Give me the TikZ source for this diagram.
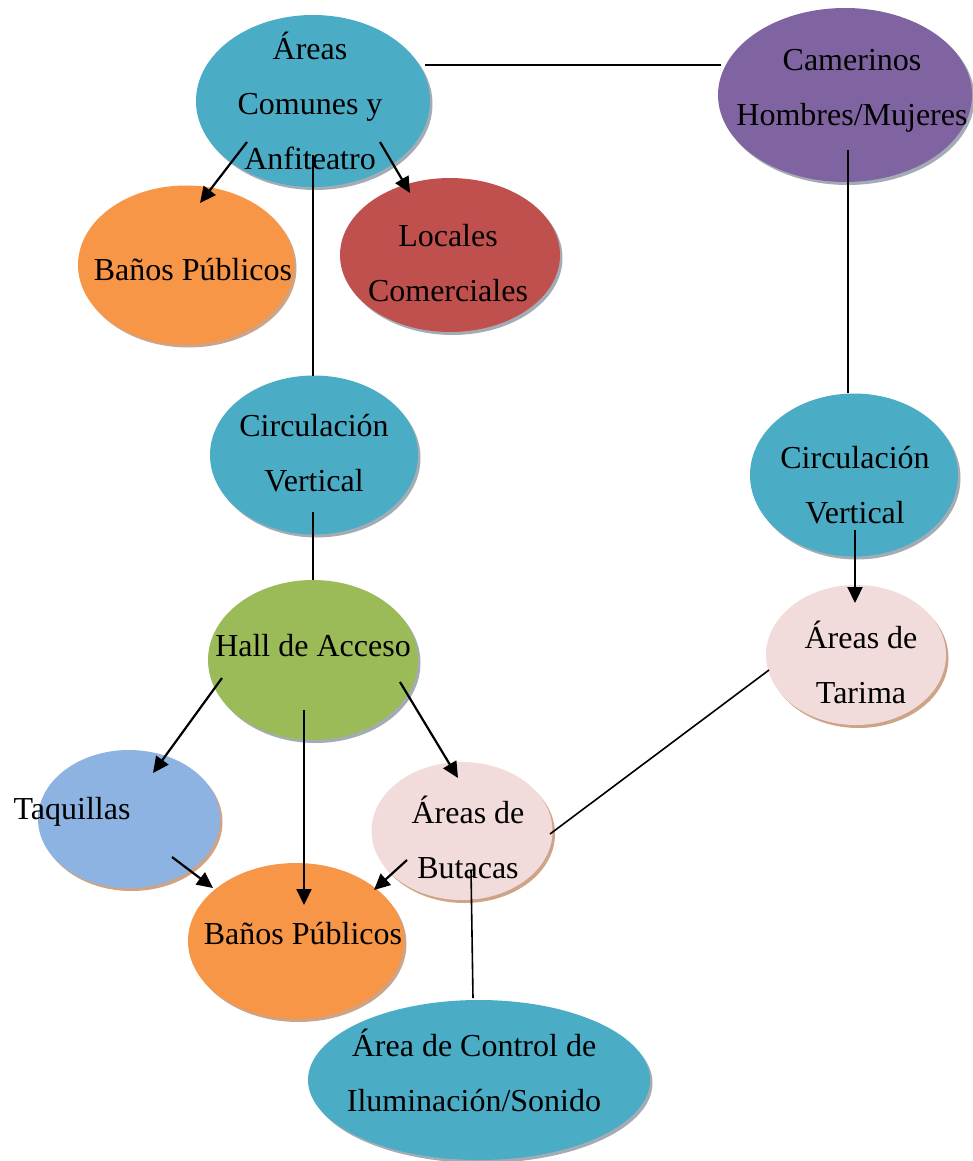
\documentclass[tikz,border=0pt]{standalone}
\usepackage{fontspec}
\setmainfont{Liberation Serif}
\usetikzlibrary{shapes.geometric,shadows,arrows.meta}
\definecolor{cteal}{HTML}{4BACC6}
\definecolor{cpurple}{HTML}{8064A2}
\definecolor{corange}{HTML}{F79646}
\definecolor{cred}{HTML}{C0504D}
\definecolor{cgreen}{HTML}{9BBB59}
\definecolor{cpink}{HTML}{F2DCDB}
\definecolor{cblue}{HTML}{8DB3E2}
\definecolor{sgrey}{HTML}{A3ACB4}
\definecolor{stan}{HTML}{CDA487}
\tikzset{
  bubble/.style={ellipse, inner sep=0pt, draw=none},
  gshadow/.style={drop shadow={shadow xshift=2.5pt, shadow yshift=-3pt, fill=sgrey, opacity=1}},
  tshadow/.style={drop shadow={shadow xshift=2.5pt, shadow yshift=-3pt, fill=stan, opacity=1}},
  lbl/.style={align=center, inner sep=0pt, font=\fontsize{32}{55}\selectfont},
  link/.style={line width=1.6pt},
  arr/.style={line width=2.2pt, -{Triangle[length=16pt,width=15pt]}}
}
\begin{document}
\begin{tikzpicture}[x=1pt,y=-1pt]
\useasboundingbox (0,0) rectangle (972,1161);
% ellipses
\node[bubble, gshadow, fill=cteal, minimum width=234pt, minimum height=172pt] (ac) at (313,101) {};
\node[bubble, gshadow, fill=cpurple, minimum width=254pt, minimum height=174pt] (cam) at (845,95) {};
\node[bubble, tshadow, fill=corange, minimum width=216pt, minimum height=159pt] (bp1) at (186,265) {};
\node[bubble, gshadow, fill=cred, minimum width=220pt, minimum height=154pt] (loc) at (450,255) {};
\node[bubble, gshadow, fill=cteal, minimum width=208pt, minimum height=159pt] (cv1) at (314,455) {};
\node[bubble, gshadow, fill=cteal, minimum width=208pt, minimum height=163pt] (cv2) at (854,475) {};
\node[bubble, gshadow, fill=cgreen, minimum width=210pt, minimum height=160pt] (hall) at (313,660) {};
\node[bubble, tshadow, fill=cpink, minimum width=180pt, minimum height=140pt] (tar) at (856,655) {};
\node[bubble, tshadow, fill=cblue, minimum width=182pt, minimum height=138pt] (taq) at (129,819) {};
\node[bubble, tshadow, fill=cpink, minimum width=181pt, minimum height=138pt] (but) at (462,831) {};
\node[bubble, tshadow, fill=corange, minimum width=216pt, minimum height=156pt] (bp2) at (296,941) {};
\node[bubble, gshadow, fill=cteal, minimum width=342pt, minimum height=160pt] (ctl) at (479,1080) {};
% labels
\node[lbl] (ac-t) at (310,101) {Áreas\\Comunes y\\Anfiteatro};
\node[lbl] (cam-t) at (852,91) {Camerinos\\Hombres/Mujeres};
\node[lbl] (bp1-t) at (193,270) {Baños Públicos};
\node[lbl] (loc-t) at (448,263) {Locales\\Comerciales};
\node[lbl] (cv1-t) at (314,453) {Circulación\\Vertical};
\node[lbl] (cv2-t) at (855,485) {Circulación\\Vertical};
\node[lbl] (hall-t) at (313,646) {Hall de Acceso};
\node[lbl] (tar-t) at (861,662) {Áreas de\\Tarima};
\node[lbl] (taq-t) at (72,812) {Taquillas};
\node[lbl] (but-t) at (468,837) {Áreas de\\Butacas};
\node[lbl] (bp2-t) at (303,934) {Baños Públicos};
\node[lbl] (ctl-t) at (474,1070) {Área de Control de\\Iluminación/Sonido};
% connectors
\draw[link] ([shift={(112,-36)}]ac.center) -- ([shift={(-124,-30)}]cam.center);
\draw[arr] ([shift={(-66,41)}]ac.center) -- ([shift={(14,-62)}]bp1.center);
\draw[arr] ([shift={(67,41)}]ac.center) -- ([shift={(-40,-62)}]loc.center);
\draw[link] ([shift={(0,54)}]ac.center) -- ([shift={(-1,-79)}]cv1.center);
\draw[link] ([shift={(-1,57)}]cv1.center) -- ([shift={(0,-80)}]hall.center);
\draw[link] ([shift={(3,55)}]cam.center) -- ([shift={(-6,-82)}]cv2.center);
\draw[arr] ([shift={(1,55)}]cv2.center) -- ([shift={(-1,-52)}]tar.center);
\draw[arr] ([shift={(-91,18)}]hall.center) -- ([shift={(24,-46)}]taq.center);
\draw[arr] ([shift={(-9,50)}]hall.center) -- ([shift={(8,-36)}]bp2.center);
\draw[arr] ([shift={(87,22)}]hall.center) -- ([shift={(-4,-53)}]but.center);
\draw[arr] ([shift={(43,38)}]taq.center) -- ([shift={(-83,-53)}]bp2.center);
\draw[arr] ([shift={(-55,29)}]but.center) -- ([shift={(78,-51)}]bp2.center);
\draw[link] ([shift={(-87,15)}]tar.center) -- ([shift={(88,3)}]but.center);
\draw[link] ([shift={(9,39)}]but.center) -- ([shift={(-6,-82)}]ctl.center);
\end{tikzpicture}
\end{document}
